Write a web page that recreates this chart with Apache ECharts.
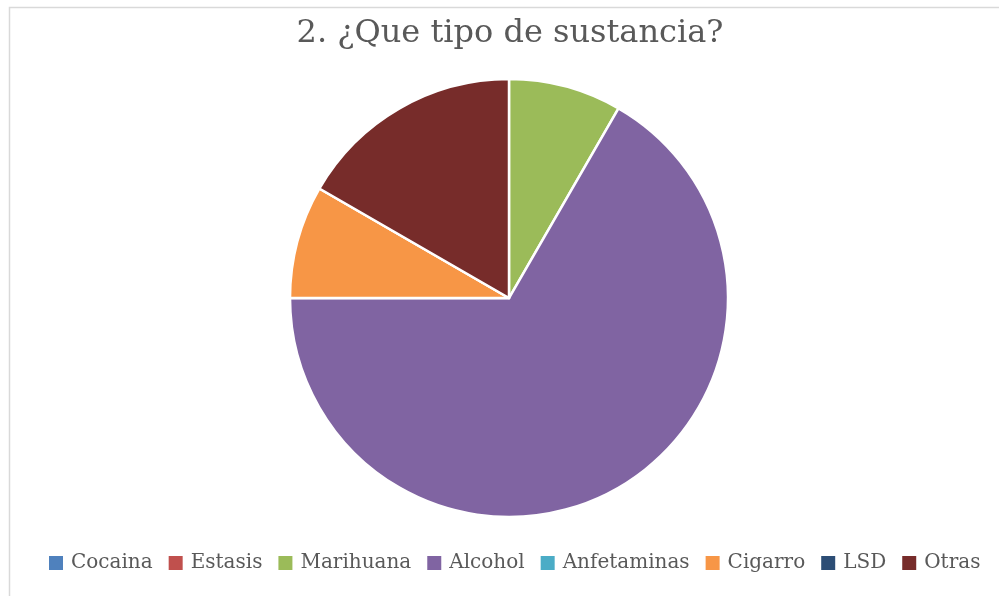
<!DOCTYPE html>
<html><head><meta charset="utf-8">
<script src="https://cdn.jsdelivr.net/npm/echarts@6/dist/echarts.min.js"></script>
<style>html,body{margin:0;padding:0;background:#fff}#c{width:999px;height:596px}</style>
</head><body><div id="c"></div>
<script>
const titleText = '2. ¿Que tipo de sustancia?';
const categories = ['Cocaina','Estasis','Marihuana','Alcohol','Anfetaminas','Cigarro','LSD','Otras'];
const values = [0,0,1,8,0,1,0,2];
const colors = ['#4F81BD','#C0504D','#9BBB59','#8064A2','#4BACC6','#F79646','#2C4D75','#772C2A'];
const FONT = '"DejaVu Serif", serif';
const chart = echarts.init(document.getElementById('c'), null, {renderer:'canvas'});
chart.setOption({
  animation:false,
  backgroundColor:'#fff',
  color: colors,
  graphic:[{type:'rect', shape:{x:9.5,y:7.5,width:1100,height:700}, style:{fill:'none',stroke:'#D9D9D9',lineWidth:1.5}, silent:true}],
  title:{text:titleText, left:505, textAlign:'center', top:13, textStyle:{fontFamily:FONT, fontSize:32, fontWeight:'normal', color:'#595959'}},
  legend:{bottom:18, left:42, itemWidth:16, itemHeight:16, itemGap:14, icon:'rect',
    textStyle:{fontFamily:FONT, fontSize:20, color:'#595959', padding:[0,0,0,2]}, data:categories},
  series:[{type:'pie', center:[509,298], radius:219, startAngle:90, clockwise:true,
    label:{show:false}, labelLine:{show:false}, emphasis:{disabled:true},
    itemStyle:{borderColor:'#fff', borderWidth:2.5},
    data: categories.map((n,i)=>({name:n, value:values[i]}))}]
});
</script></body></html>
